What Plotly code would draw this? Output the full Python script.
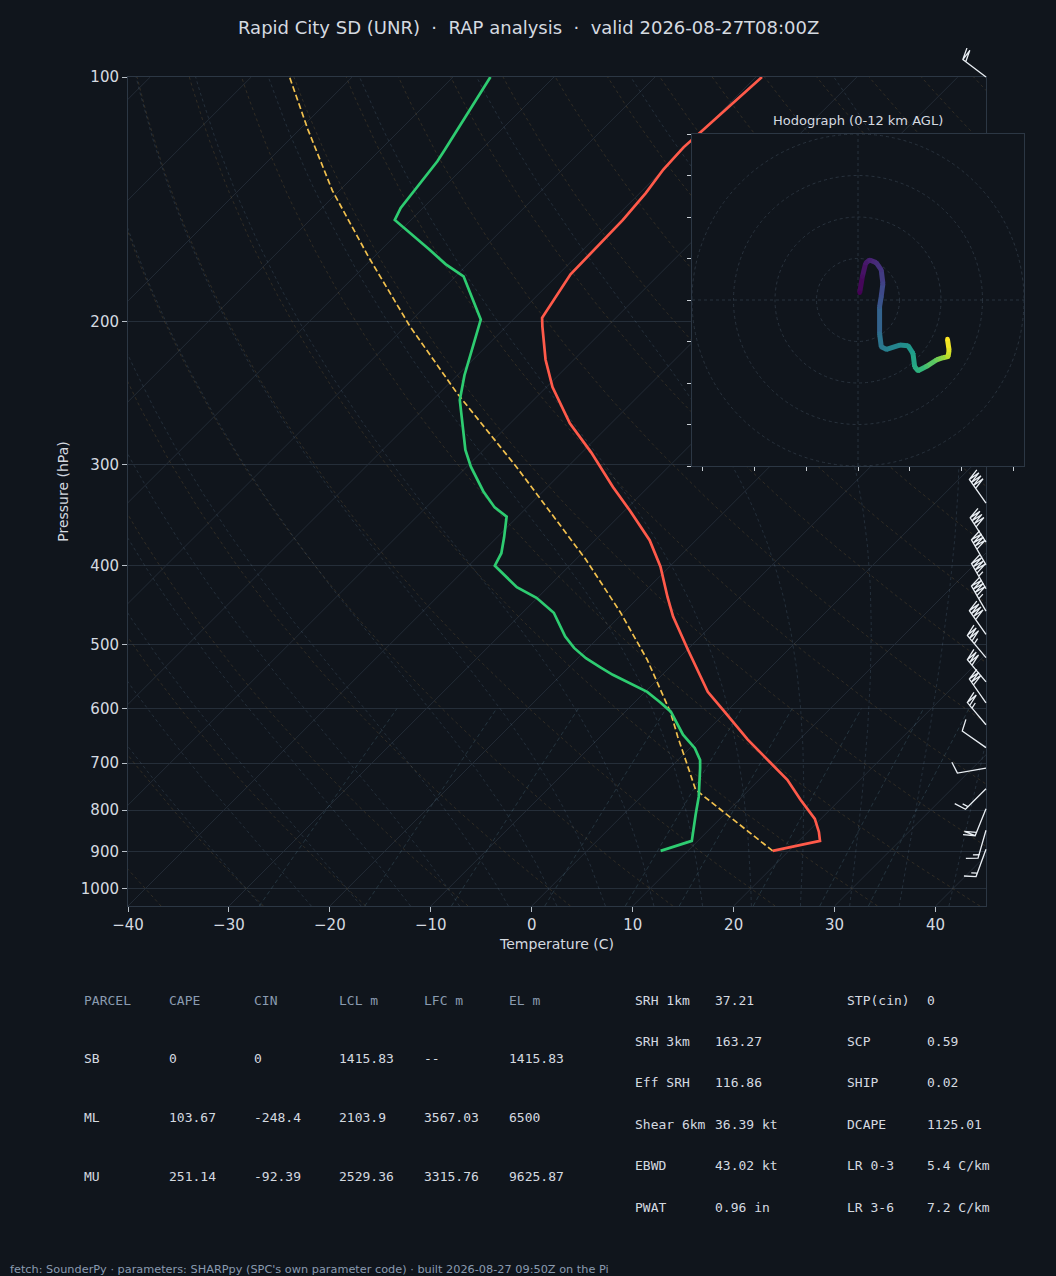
import numpy as np
import plotly.graph_objects as go
from plotly.colors import sample_colorscale

# ---- sounding (hPa, degC) ----
temp_p = [898, 873, 851, 820, 777, 734, 699, 655, 602, 572, 548, 508, 462, 437,
          401, 372, 342, 320, 290, 267, 241, 223, 203, 198, 175, 162, 150, 139,
          130, 122, 117, 100]
temp_c = [18.4, 22.1, 21.1, 19.4, 16.1, 12.8, 9.4, 4.9, -0.5, -3.8, -6.0, -9.9,
          -14.7, -17.2, -20.9, -24.6, -29.5, -33.5, -39.1, -44.1, -49.4, -52.8,
          -56.4, -57.3, -58.8, -58.9, -59.0, -59.4, -60.0, -60.2, -60.0, -59.4]

dwpt_p = [898, 873, 811, 770, 710, 694, 671, 646, 605, 589, 572, 545, 534, 520,
          505, 489, 457, 438, 425, 400, 386, 369, 348, 339, 324, 302, 288, 250,
          233, 215, 199, 176, 170, 163, 150, 145, 127, 123, 100]
dwpt_c = [7.3, 9.4, 7.2, 5.7, 3.0, 2.2, 0.5, -2.0, -5.5, -7.5, -9.8, -14.9, -16.8,
          -19.2, -21.4, -23.4, -26.9, -30.1, -33.1, -37.4, -38.0, -39.3, -41.1,
          -43.2, -45.9, -49.6, -51.8, -57.3, -59.3, -61.3, -63.2, -69.2, -72.2,
          -75.3, -81.6, -82.2, -83.2, -83.6, -86.3]

parcel_p = [898, 777, 755, 708, 650, 607, 522, 456, 393, 302, 245, 203, 167, 138, 116, 100]
parcel_c = [18.4, 6.9, 4.7, 1.7, -2.3, -5.4, -13.0, -20.4, -29.0, -45.1, -58.3,
            -69.5, -80.4, -90.7, -99.2, -106.2]

# wind barbs (direction from, knots)
barb_p = [100, 335, 374, 399, 427, 455, 486, 519, 556, 590, 628, 670, 710, 753, 797, 847, 894]
barb_dir = [307, 325, 327, 330, 330, 330, 325, 320, 320, 325, 320, 305, 260, 225, 202, 196, 200]
barb_kt = [20, 40, 40, 40, 45, 45, 40, 35, 30, 30, 25, 10, 10, 15, 20, 15, 15]

# hodograph (kt) and height AGL (km)
hodo_u = [0.8, 2.1, 3.7, 5.6, 8.8, 11.2, 12.0, 11.2, 10.4, 10.4, 11.2, 13.7, 20.1,
          24.1, 26.5, 27.3, 28.9, 32.9, 37.8, 41.0, 43.4, 43.9, 43.1]
hodo_v = [3.5, 11.2, 17.7, 19.3, 18.0, 14.5, 8.0, 1.6, -3.2, -16.1, -22.5, -23.8,
          -21.7, -22.0, -25.7, -32.1, -34.1, -32.1, -28.9, -27.8, -27.3, -24.1, -18.8]
hodo_km = [0, 0.4, 0.8, 1.1, 1.5, 1.9, 2.4, 2.9, 3.3, 4.3, 4.8, 5.2, 5.7, 6.1, 6.7,
           7.2, 7.6, 8.4, 9.3, 10.0, 10.8, 11.5, 12.0]
hodo_rings = [20, 40, 60, 80]
hodo_xticks = [-75, -50, -25, 0, 25, 50, 75]
hodo_yticks = [-80, -60, -40, -20, 0, 20, 40, 60, 80]

t_ticks = [-40, -30, -20, -10, 0, 10, 20, 30, 40]
p_ticks = [100, 200, 300, 400, 500, 600, 700, 800, 900, 1000]

# parcel table
parcel_names = ["SB", "ML", "MU"]
cape = [0, 103.67, 251.14]
cin = [0, -248.4, -92.39]
lcl_m = [1415.83, 2103.9, 2529.36]
lfc_m = [None, 3567.03, 3315.76]
el_m = [1415.83, 6500, 9625.87]
table_head = ["PARCEL", "CAPE", "CIN", "LCL m", "LFC m", "EL m"]

# index table
idx_a_names = ["SRH 1km", "SRH 3km", "Eff SRH", "Shear 6km", "EBWD", "PWAT"]
idx_a_vals = [37.21, 163.27, 116.86, 36.39, 43.02, 0.96]
idx_a_units = ["", "", "", " kt", " kt", " in"]
idx_b_names = ["STP(cin)", "SCP", "SHIP", "DCAPE", "LR 0-3", "LR 3-6"]
idx_b_vals = [0, 0.59, 0.02, 1125.01, 5.4, 7.2]
idx_b_units = ["", "", "", "", " C/km", " C/km"]

SEP = "\u00a0\u00a0\u00b7\u00a0\u00a0"
title = "Rapid City SD (UNR)" + SEP + "RAP analysis" + SEP + "valid 2026-08-27T08:00Z"
footer = ("fetch: SounderPy \u00b7 parameters: SHARPpy (SPC's own parameter code) "
          "\u00b7 built 2026-08-27 09:50Z on the Pi")

# ---- look ----
BG = "#10151c"
TXT = "#d5dae0"
DIM = "#8a9bb0"
FRAME = "#2c3744"
GRID = "#252e39"
CLEAR = "rgba(0,0,0,0)"

W, H = 1056, 1276
L_PX, R_PX, T_PX, B_PX = 128, 986, 77, 906
P_BOT, P_TOP = 1050.0, 100.0
T_LO, T_HI = -40, 45
SKEW = 80.5
px_deg = (R_PX - L_PX) / (T_HI - T_LO)
px_dec = (B_PX - T_PX) / np.log10(P_BOT / P_TOP)
EXTRA = 45  # headroom (px) of the barb overlay above the frame


def skew_x(t, p):
    return np.asarray(t, float) + SKEW * np.log10(P_BOT / np.asarray(p, float))


def joined(curves):
    xs, ys = [], []
    for x, y in curves:
        xs += list(x) + [None]
        ys += list(y) + [None]
    return xs, ys


def moist_curve(t0):
    def rate(p, tk):
        es = 6.112 * np.exp(17.67 * (tk - 273.15) / (tk - 29.65))
        rs = 0.622 * es / (p - es)
        return (287.04 * tk + 2.501e6 * rs) / (1005.7 + 2.501e6 ** 2 * rs * 0.622 / (287.04 * tk * tk)) / p

    out = {}
    for p_end in (P_TOP, P_BOT):
        ps = np.linspace(1000.0, p_end, 200)
        tk = t0 + 273.15
        ts = [tk]
        for a, b in zip(ps[:-1], ps[1:]):
            h = b - a
            k1 = rate(a, tk)
            k2 = rate(a + h / 2, tk + h / 2 * k1)
            k3 = rate(a + h / 2, tk + h / 2 * k2)
            k4 = rate(b, tk + h * k3)
            tk = tk + h / 6 * (k1 + 2 * k2 + 2 * k3 + k4)
            ts.append(tk)
        out[p_end] = (ps, np.array(ts) - 273.15)
    p = np.concatenate([out[P_BOT][0][::-1], out[P_TOP][0][1:]])
    t = np.concatenate([out[P_BOT][1][::-1], out[P_TOP][1][1:]])
    return skew_x(t, p), p


fig = go.Figure()

# isotherms
iso = [(skew_x([t, t], [P_BOT, P_TOP]), [P_BOT, P_TOP]) for t in range(-130, 50, 10)]
x, y = joined(iso)
fig.add_scatter(x=x, y=y, mode="lines", line=dict(color=GRID, width=0.9), hoverinfo="skip")

# dry adiabats
p_full = np.geomspace(P_BOT, P_TOP, 80)
dry = [(skew_x((t0 + 273.15) * (p_full / 1000.0) ** 0.2857 - 273.15, p_full), p_full)
       for t0 in range(-40, 200, 10)]
x, y = joined(dry)
fig.add_scatter(x=x, y=y, mode="lines", hoverinfo="skip",
                line=dict(color="rgba(150,118,64,0.30)", width=0.8, dash="3px,3px"))

# moist adiabats
x, y = joined([moist_curve(t0) for t0 in range(-30, 50, 5)])
fig.add_scatter(x=x, y=y, mode="lines", hoverinfo="skip",
                line=dict(color="rgba(105,135,165,0.28)", width=0.8, dash="3px,3px"))

# mixing ratio lines
p_mix = np.geomspace(P_BOT, 600, 30)
mix = []
for w in [0.4, 1, 2, 4, 7, 10, 16, 24, 32]:
    e = (w / 1000) * p_mix / (0.622 + w / 1000)
    ln = np.log(e / 6.112)
    mix.append((skew_x(243.5 * ln / (17.67 - ln), p_mix), p_mix))
x, y = joined(mix)
fig.add_scatter(x=x, y=y, mode="lines", hoverinfo="skip",
                line=dict(color="rgba(95,140,160,0.32)", width=0.8, dash="4px,3px"))

# profiles
fig.add_scatter(x=skew_x(parcel_c, parcel_p), y=parcel_p, mode="lines", name="parcel",
                line=dict(color="#f2c14e", width=1.7, dash="6px,3px"))
fig.add_scatter(x=skew_x(temp_c, temp_p), y=temp_p, mode="lines", name="T",
                line=dict(color="#ff5a4a", width=2.7))
fig.add_scatter(x=skew_x(dwpt_c, dwpt_p), y=dwpt_p, mode="lines", name="Td",
                line=dict(color="#2ecc71", width=2.7))

# hodograph (subplot 2)
cols = sample_colorscale("Viridis", [(hodo_km[i] + hodo_km[i + 1]) / 24 for i in range(len(hodo_km) - 1)])
for i in range(len(hodo_u) - 1):
    fig.add_scatter(x=hodo_u[i:i + 2], y=hodo_v[i:i + 2], mode="lines", xaxis="x2", yaxis="y2",
                    line=dict(color=cols[i], width=5), hoverinfo="skip")
fig.add_scatter(x=hodo_u, y=hodo_v, mode="markers", xaxis="x2", yaxis="y2", hoverinfo="skip",
                marker=dict(size=4.5, color=hodo_km, colorscale="Viridis", cmin=0, cmax=12))

fig.add_shape(type="rect", xref="x2", yref="y2", x0=-80, y0=-80, x1=80, y1=80, layer="below",
              fillcolor=BG, line=dict(width=0))
for r in hodo_rings:
    fig.add_shape(type="circle", xref="x2", yref="y2", x0=-r, y0=-r, x1=r, y1=r, layer="below",
                  line=dict(color="#2b3541", width=0.9, dash="3px,3px"))
fig.add_shape(type="line", xref="x2", yref="y2", x0=-80, x1=80, y0=0, y1=0, layer="below",
              line=dict(color="#2b3541", width=0.9, dash="3px,3px"))
fig.add_shape(type="line", xref="x2", yref="y2", x0=0, x1=0, y0=-80, y1=80, layer="below",
              line=dict(color="#2b3541", width=0.9, dash="3px,3px"))

# wind barbs on an invisible overlay (subplot 3) with the same scale and some headroom
bx, by = [], []
blen = 29.0
for p0, wd, spd in zip(barb_p, barb_dir, barb_kt):
    d = np.array([np.sin(np.radians(wd)), np.cos(np.radians(wd))])
    perp = np.array([d[1], -d[0]])
    n10, rem = divmod(int(5 * round(spd / 5)), 10)
    pts = [np.zeros(2), blen * d]
    along = blen
    for i in range(n10):
        a = along * d
        pts += [a + 0.4 * blen * perp + 0.125 * blen * d, a]
        along -= 0.125 * blen
    if rem >= 5:
        if n10 == 0:
            along -= 1.5 * 0.125 * blen
        a = along * d
        pts += [a, a + 0.2 * blen * perp + 0.0625 * blen * d]
    for q in pts:
        bx.append(T_HI + q[0] / px_deg)
        by.append(p0 * 10 ** (-q[1] / px_dec))
    bx.append(None)
    by.append(None)
fig.add_scatter(x=bx, y=by, mode="lines", xaxis="x3", yaxis="y3", hoverinfo="skip",
                line=dict(color="#e9eef3", width=1.3))

# ---- text ----
ann = []


def put(px, py, text, size=13, color=TXT, family="DejaVu Sans Mono", anchor="left"):
    ann.append(dict(x=px / W, y=1 - py / H, xref="paper", yref="paper", text=text,
                    showarrow=False, xanchor=anchor, yanchor="middle",
                    font=dict(family=family, size=size, color=color)))


def fmt(v):
    return "--" if v is None else str(v)


put(528, 27, title, size=18, family="DejaVu Sans", anchor="center")
put(858, 120, "Hodograph (0-12 km AGL)", size=13, family="DejaVu Sans", anchor="center")

col_x = [82, 167, 252, 337, 422, 507]
for cx, h in zip(col_x, table_head):
    put(cx, 1000, h, color=DIM)
for k, name in enumerate(parcel_names):
    row = [name, cape[k], cin[k], lcl_m[k], lfc_m[k], el_m[k]]
    for cx, v in zip(col_x, row):
        put(cx, 1058.5 + k * 59, fmt(v))

for k in range(len(idx_a_names)):
    ry = 1000 + k * 41.4
    put(633, ry, idx_a_names[k])
    put(713, ry, fmt(idx_a_vals[k]) + idx_a_units[k])
    put(845, ry, idx_b_names[k])
    put(925, ry, fmt(idx_b_vals[k]) + idx_b_units[k])

put(8, 1269, footer, size=11.3, color=DIM, family="DejaVu Sans")

axis_font = dict(family="DejaVu Sans", size=15, color=TXT)
fig.update_layout(
    width=W, height=H, margin=dict(l=0, r=0, t=0, b=0, autoexpand=False),
    paper_bgcolor=BG, plot_bgcolor=CLEAR, showlegend=False,
    font=dict(family="DejaVu Sans", color=TXT),
    annotations=ann,
    xaxis=dict(domain=[L_PX / W, R_PX / W], range=[T_LO, T_HI], anchor="y", automargin=False,
               tickvals=t_ticks, ticks="outside", ticklen=5, tickcolor="#b8c0c8",
               tickfont=axis_font, showgrid=False, zeroline=False,
               showline=True, mirror=True, linecolor=FRAME, linewidth=1,
               title=dict(text="Temperature (C)", font=dict(size=14, color=TXT), standoff=6)),
    yaxis=dict(domain=[1 - B_PX / H, 1 - T_PX / H], type="log", anchor="x", automargin=False,
               range=[np.log10(P_BOT), np.log10(P_TOP)],
               tickvals=p_ticks, ticktext=[str(v) for v in p_ticks],
               ticks="outside", ticklen=5, tickcolor="#b8c0c8", tickfont=axis_font,
               showgrid=True, gridcolor=GRID, gridwidth=0.9, zeroline=False,
               showline=True, mirror=True, linecolor=FRAME, linewidth=1,
               title=dict(text="Pressure (hPa)", font=dict(size=14, color=TXT), standoff=8)),
    xaxis2=dict(domain=[692 / W, 1024 / W], range=[-80, 80], anchor="y2", automargin=False,
                tickvals=hodo_xticks, showticklabels=False, ticks="outside", ticklen=4,
                tickcolor="#c8ced4", showgrid=False, zeroline=False,
                showline=True, mirror=True, linecolor=FRAME, linewidth=1),
    yaxis2=dict(domain=[1 - 466 / H, 1 - 134 / H], range=[-80, 80], anchor="x2", automargin=False,
                tickvals=hodo_yticks, showticklabels=False, ticks="outside", ticklen=4,
                tickcolor="#c8ced4", showgrid=False, zeroline=False,
                showline=True, mirror=True, linecolor=FRAME, linewidth=1),
    xaxis3=dict(domain=[L_PX / W, (R_PX + 10) / W], range=[T_LO, T_HI + 10 / px_deg],
                anchor="y3", visible=False, automargin=False),
    yaxis3=dict(domain=[1 - B_PX / H, 1 - (T_PX - EXTRA) / H], type="log", anchor="x3",
                range=[np.log10(P_BOT), np.log10(P_TOP) - EXTRA / px_dec],
                visible=False, automargin=False),
)

fig.write_html("out.html", config={"displayModeBar": False},
               post_script="document.body.style.margin='0px';")
